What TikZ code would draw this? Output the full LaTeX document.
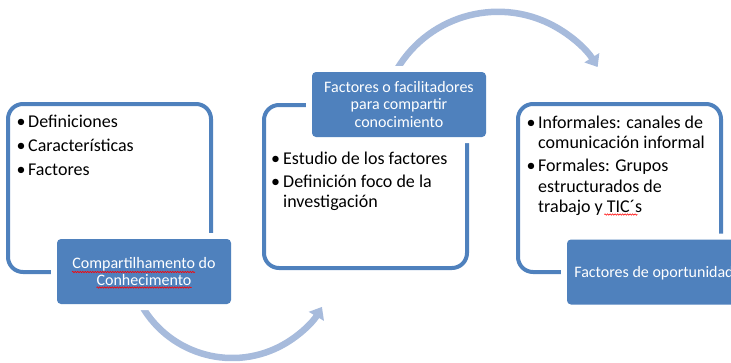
\documentclass[tikz,border=0pt]{standalone}
\usepackage{fontspec}
\setmainfont{Carlito}
\usetikzlibrary{arrows.meta,decorations.pathmorphing,calc}
\definecolor{accent}{RGB}{79,129,189}
\definecolor{arrowblue}{RGB}{167,187,220}
\begin{document}
\begin{tikzpicture}[x=1pt,y=-1pt,
 frame/.style={draw=accent, line width=4pt, rounded corners=15pt, inner sep=0pt, outer sep=0pt, minimum width=203pt},
 bluebox/.style={fill=accent, rounded corners=4pt, minimum width=174pt, minimum height=65pt, inner sep=0pt, text=white, align=center, font=\fontsize{16}{17.5}\selectfont, preaction={draw=white, line width=12pt}},
 item/.style={anchor=base west, inner sep=0pt, font=\fontsize{18}{20}\selectfont},
 cyclearrow/.style={draw=arrowblue, line width=6.5pt, -{Triangle[width=17pt,length=11pt]}},
 squig/.style={draw=red, line width=0.6pt, decorate, decoration={snake, amplitude=0.7pt, segment length=2.5pt}}
]
\useasboundingbox (0,0) rectangle (731,362);
\clip (0,0) rectangle (731,362);

% outline frames
\node[frame, minimum height=168pt] (f1) at (109.5,188) {};
\node[frame, minimum height=163pt] (f2) at (365.5,186.5) {};
\node[frame, minimum height=168pt] (f3) at (619.5,188) {};

% cycle arrows
\coordinate (c1) at (232.2,253.6);
\coordinate (c2) at (498,129.3);
\draw[cyclearrow] ($(c1)+(150:104.4)$) arc[start angle=150, end angle=30.7, radius=104.4];
\draw[cyclearrow] ($(c2)+(-152:117.5)$) arc[start angle=-152, end angle=-32, radius=117.5];

% blue title boxes
\node[bluebox] (b1) at (144,271.5) {Compartilhamento do\\Conhecimento};
\node[bluebox] (b2) at (399,104.5) {Factores o facilitadores\\para compartir\\conocimiento};
\node[bluebox, text depth=0pt] (b3) at (654,272) {Factores de oportunidad};

% box 1 items
\node[item] (p1) at (16.5,127) {•};
\node[item] (t1) at (28,127) {Definiciones};
\node[item] (p2) at (16.5,151) {•};
\node[item] (t2) at (28,151) {Características};
\node[item] (p3) at (16.5,175) {•};
\node[item] (t3) at (28,175) {Factores};

% box 2 items
\node[item] (q1) at (271,164) {•};
\node[item] (u1) at (283,164) {Estudio de los factores};
\node[item] (q2) at (271,187) {•};
\node[item] (u2) at (283,187) {Definición foco de la};
\node[item] (u3) at (283,207) {investigación};

% box 3 items
\node[item] (r1) at (526.5,128) {•};
\node[item] (v1) at (538,128) {Informales: canales de};
\node[item] (v2) at (538,148) {comunicación informal};
\node[item] (r2) at (526.5,171) {•};
\node[item] (v3) at (538,171) {Formales: Grupos};
\node[item] (v4) at (538,192) {estructurados de};
\node[item] (v5) at (538,212) {trabajo y TIC´s};

% spell-check underlines
\draw[squig] ($(b1.center)+(-72,0.5)$) -- ($(b1.center)+(51,0.5)$);
\draw[squig] ($(b1.center)+(-47.5,16)$) -- ($(b1.center)+(47.5,16)$);
\draw[squig] ($(v5.base east)+(-38,2.5)$) -- ($(v5.base east)+(-5,2.5)$);
\end{tikzpicture}
\end{document}
